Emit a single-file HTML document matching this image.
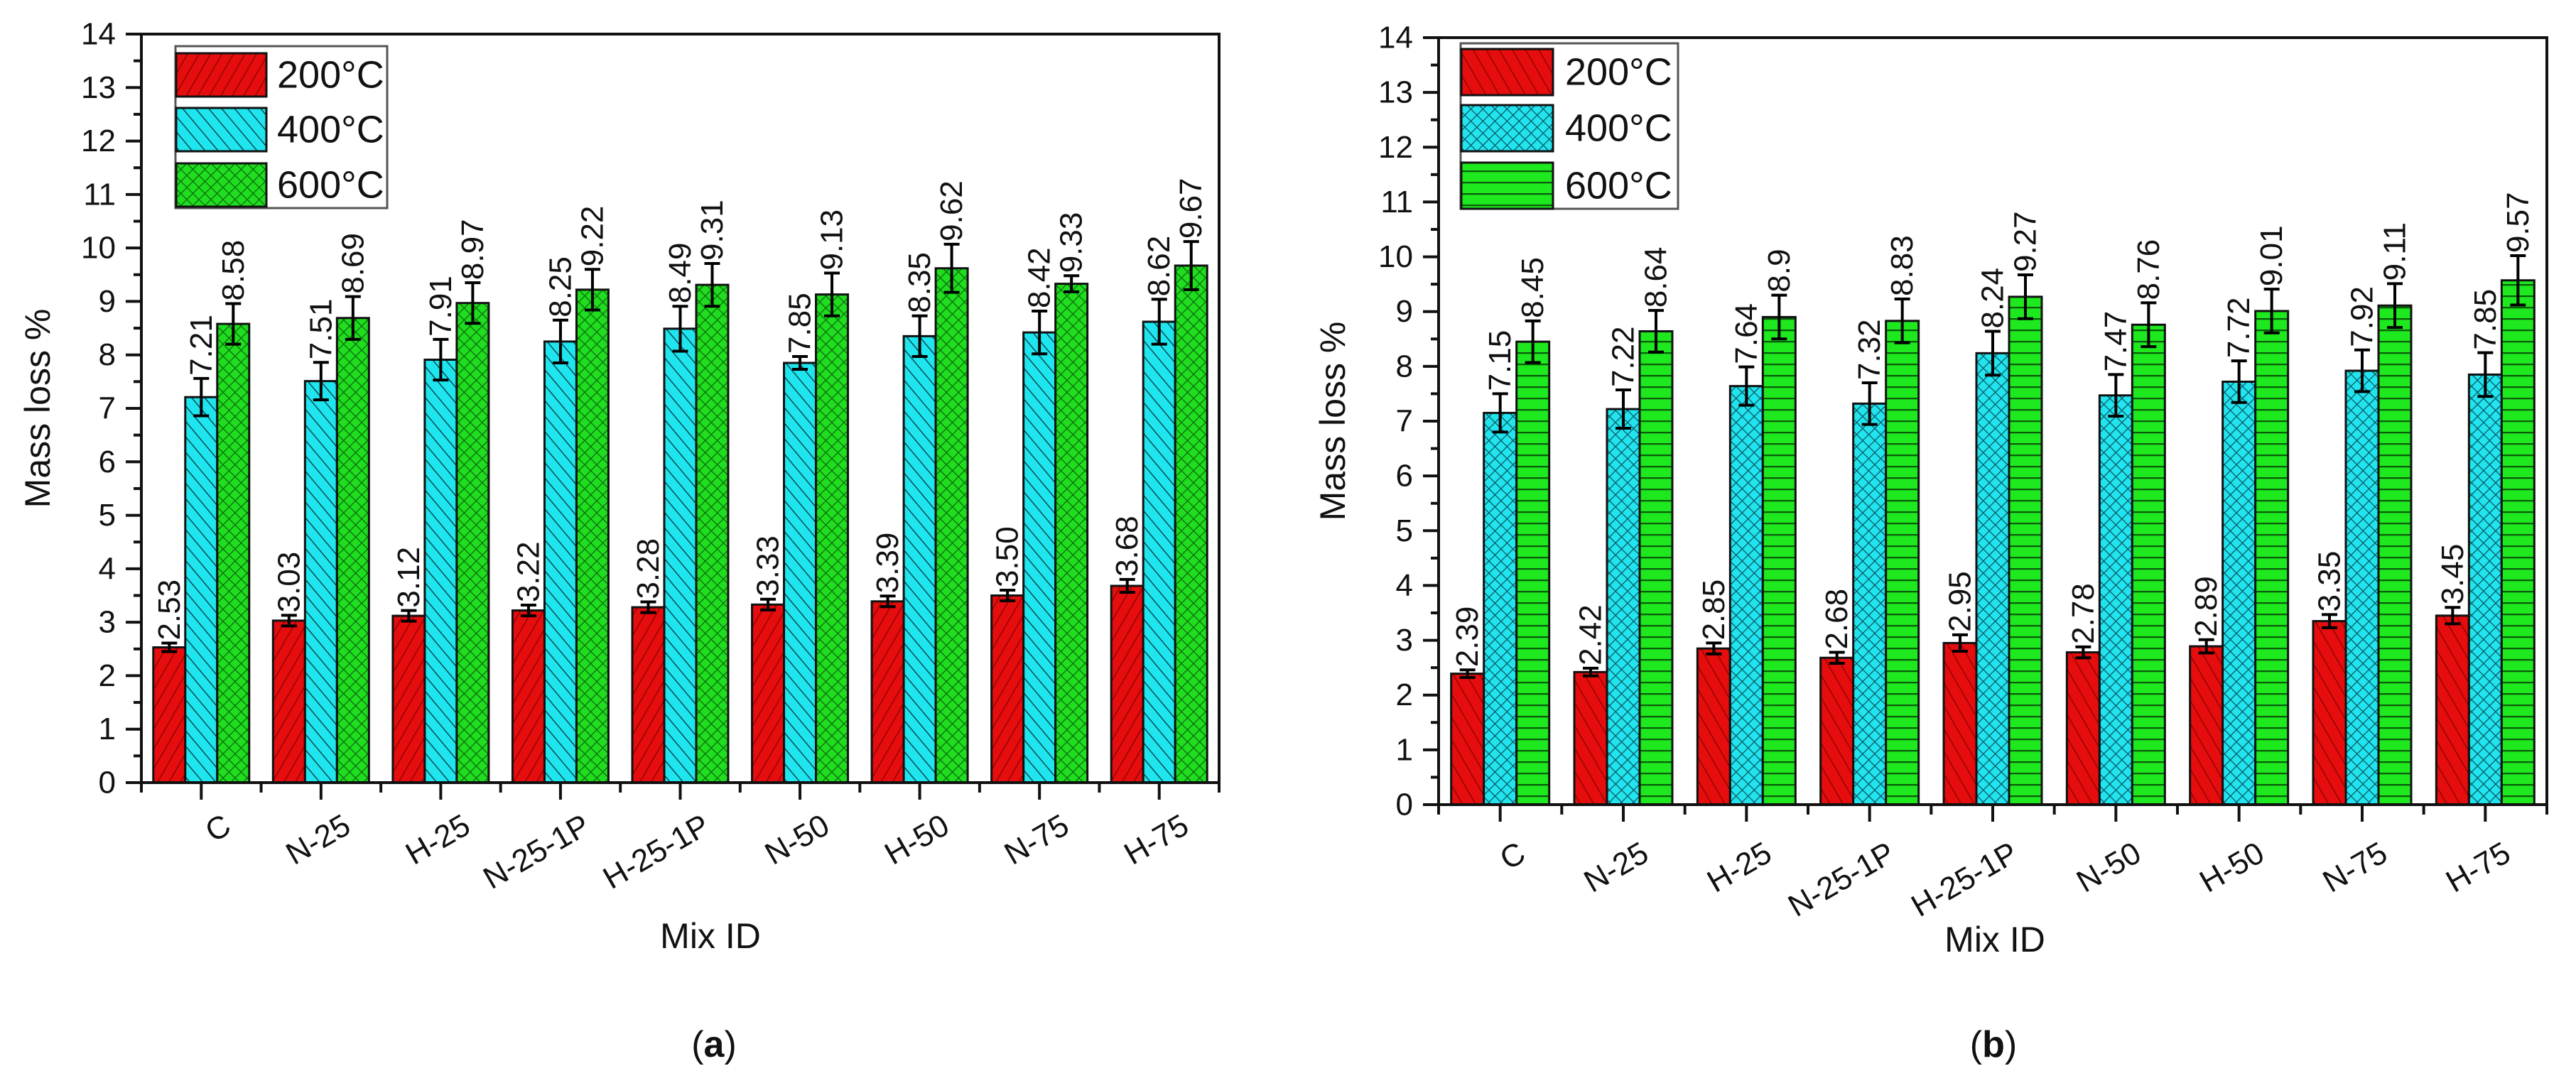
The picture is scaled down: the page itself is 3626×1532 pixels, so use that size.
<!DOCTYPE html>
<html><head><meta charset="utf-8">
<style>
html,body{margin:0;padding:0;background:#fff;}
svg{display:block;font-family:"Liberation Sans",Arial,sans-serif;}
</style></head>
<body>
<svg id="fig" width="3626" height="1532" viewBox="0 0 3626 1532" xmlns="http://www.w3.org/2000/svg">
<defs>
<pattern id="pRedA" patternUnits="userSpaceOnUse" width="14" height="14" patternTransform="rotate(30)"><rect width="14" height="14" fill="#e50d0d"/><line x1="0" y1="0" x2="0" y2="14" stroke="#8a0000" stroke-width="2.5"/></pattern>
<pattern id="pCyanA" patternUnits="userSpaceOnUse" width="14" height="14" patternTransform="rotate(-40)"><rect width="14" height="14" fill="#1fe6ee"/><line x1="0" y1="0" x2="0" y2="14" stroke="#0a4a55" stroke-width="3"/></pattern>
<pattern id="pGreenA" patternUnits="userSpaceOnUse" width="12" height="12" patternTransform="rotate(45)"><rect width="12" height="12" fill="#20dd20"/><line x1="0" y1="0" x2="0" y2="12" stroke="#0b6a0b" stroke-width="2.5"/><line x1="0" y1="0" x2="12" y2="0" stroke="#0b6a0b" stroke-width="2.5"/></pattern>
<pattern id="pRedB" patternUnits="userSpaceOnUse" width="16" height="16" patternTransform="rotate(-30)"><rect width="16" height="16" fill="#e50d0d"/><line x1="0" y1="0" x2="0" y2="16" stroke="#8a0000" stroke-width="2.5"/></pattern>
<pattern id="pCyanB" patternUnits="userSpaceOnUse" width="12" height="12" patternTransform="rotate(45)"><rect width="12" height="12" fill="#22e4ee"/><line x1="0" y1="0" x2="0" y2="12" stroke="#0a5560" stroke-width="2.5"/><line x1="0" y1="0" x2="12" y2="0" stroke="#0a5560" stroke-width="2.5"/></pattern>
<pattern id="pGreenB" patternUnits="userSpaceOnUse" width="16" height="16"><rect width="16" height="16" fill="#1ee81e"/><line x1="0" y1="1" x2="16" y2="1" stroke="#0b5a0b" stroke-width="2.5"/></pattern>
</defs>
</svg>
<script>
// ---- data ----
const categories = ["C","N-25","H-25","N-25-1P","H-25-1P","N-50","H-50","N-75","H-75"];
const seriesNames = ["200°C","400°C","600°C"];
const yTicks = [0,1,2,3,4,5,6,7,8,9,10,11,12,13,14];
// chart (a)
const a200 = [2.53,3.03,3.12,3.22,3.28,3.33,3.39,3.50,3.68];
const a400 = [7.21,7.51,7.91,8.25,8.49,7.85,8.35,8.42,8.62];
const a600 = [8.58,8.69,8.97,9.22,9.31,9.13,9.62,9.33,9.67];
const a200Err = [0.08,0.10,0.10,0.10,0.10,0.10,0.10,0.10,0.12];
const a400Err = [0.35,0.35,0.38,0.40,0.42,0.12,0.38,0.40,0.42];
const a600Err = [0.38,0.40,0.38,0.38,0.40,0.40,0.45,0.15,0.45];
const a200Lbl = ["2.53","3.03","3.12","3.22","3.28","3.33","3.39","3.50","3.68"];
const a400Lbl = ["7.21","7.51","7.91","8.25","8.49","7.85","8.35","8.42","8.62"];
const a600Lbl = ["8.58","8.69","8.97","9.22","9.31","9.13","9.62","9.33","9.67"];
// chart (b)
const b200 = [2.39,2.42,2.85,2.68,2.95,2.78,2.89,3.35,3.45];
const b400 = [7.15,7.22,7.64,7.32,8.24,7.47,7.72,7.92,7.85];
const b600 = [8.45,8.64,8.90,8.83,9.27,8.76,9.01,9.11,9.57];
const b200Err = [0.07,0.07,0.10,0.10,0.15,0.10,0.12,0.12,0.15];
const b400Err = [0.35,0.35,0.35,0.38,0.40,0.38,0.38,0.38,0.40];
const b600Err = [0.38,0.38,0.40,0.40,0.40,0.40,0.40,0.40,0.45];
const b200Lbl = ["2.39","2.42","2.85","2.68","2.95","2.78","2.89","3.35","3.45"];
const b400Lbl = ["7.15","7.22","7.64","7.32","8.24","7.47","7.72","7.92","7.85"];
const b600Lbl = ["8.45","8.64","8.9","8.83","9.27","8.76","9.01","9.11","9.57"];

const NS = "http://www.w3.org/2000/svg";
const svg = document.getElementById("fig");
function mk(tag, attrs, parent){
  const e = document.createElementNS(NS, tag);
  for (const k in attrs) e.setAttribute(k, attrs[k]);
  (parent||svg).appendChild(e);
  return e;
}

function drawChart(cfg, vals, errs, lbls, fills){
  const g = mk("g", {});
  
  
  const L = cfg.left, R = cfg.right, T = cfg.top, B = cfg.bottom;
  const yMax = 14;
  const yScale = v => B - (v / yMax) * (B - T);
  const step = (R - L) / categories.length;
  const xCenter = i => L + step * (i + 0.5);
  const bw = cfg.barW;

  for (let s = 0; s < 3; s++) {
    for (let i = 0; i < categories.length; i++) {
      const x = xCenter(i) - 1.5 * bw + s * bw;
      const y = yScale(vals[s][i]);
      const r = mk("rect", {x:x, y:y, width:bw, height:B - y, fill:"url(#"+fills[s]+")", stroke:"#111", "stroke-width":3}, g);
      
      
      const cx = x + bw / 2;
      const yt = yScale(vals[s][i] + errs[s][i]);
      const yb = yScale(vals[s][i] - errs[s][i]);
      const eg = mk("g", {stroke:"#000", "stroke-width":4}, g);
      
      
      mk("line", {x1:cx, y1:yt, x2:cx, y2:yb}, eg);
      mk("line", {x1:cx-11, y1:yt, x2:cx+11, y2:yt}, eg);
      mk("line", {x1:cx-11, y1:yb, x2:cx+11, y2:yb}, eg);
      const t = mk("text", {x:0, y:0, "font-size":cfg.valFont, "text-anchor":"start", "dominant-baseline":"central", fill:"#111",
        transform:"translate("+cx+","+(yt-4)+") rotate(-90)"}, g);
      t.textContent = lbls[s][i];
      
      
    }
  }

  const ax = mk("g", {stroke:"#111", "stroke-width":4, fill:"none"}, g);
  
  
  mk("line", {x1:L, y1:T, x2:L, y2:B}, ax);
  mk("line", {x1:L-22, y1:B, x2:R+2, y2:B}, ax);
  mk("line", {x1:L-22, y1:T, x2:R+2, y2:T}, ax);
  mk("line", {x1:R, y1:T, x2:R, y2:B+12}, ax);

  for (let k = 0; k < yTicks.length; k++) {
    const v = yTicks[k];
    const y = yScale(v);
    mk("line", {x1:L-22, y1:y, x2:L, y2:y, stroke:"#111", "stroke-width":4}, g);
    if (k < yTicks.length - 1) {
      const ym = yScale(v + 0.5);
      mk("line", {x1:L-11, y1:ym, x2:L, y2:ym, stroke:"#111", "stroke-width":4}, g);
    }
    const t = mk("text", {x:L-36, y:y, "font-size":44, "text-anchor":"end", "dominant-baseline":"central", fill:"#111"}, g);
    t.textContent = v;
    
    
  }
  for (let i = 0; i <= categories.length; i++) {
    const xm = L + step * i;
    mk("line", {x1:xm, y1:B, x2:xm, y2:B+14, stroke:"#111", "stroke-width":4}, g);
  }
  for (let i = 0; i < categories.length; i++) {
    const xc = xCenter(i);
    mk("line", {x1:xc, y1:B, x2:xc, y2:B+24, stroke:"#111", "stroke-width":4}, g);
    const t = mk("text", {x:0, y:0, "font-size":44, "text-anchor":"end", "dominant-baseline":"hanging", fill:"#111",
      transform:"translate("+(xc+cfg.lblDx)+","+(B+cfg.lblDy)+") rotate(-30)"}, g);
    t.textContent = categories[i];
    
    
  }
  const xt = mk("text", {x:cfg.xTitleX, y:cfg.xTitleY, "font-size":50, "text-anchor":"middle", fill:"#111"}, g);
  xt.textContent = "Mix ID";
  
  
  const yt = mk("text", {x:0, y:0, "font-size":50, "text-anchor":"middle", "dominant-baseline":"central", fill:"#111",
    transform:"translate("+cfg.yTitleX+","+cfg.yTitleY+") rotate(-90)"}, g);
  yt.textContent = "Mass loss %";
  
  

  const lg = mk("g", {}, g);
  
  
  const lgB = cfg.legend;
  mk("rect", {x:lgB.x, y:lgB.y, width:lgB.w, height:lgB.h, fill:"#fff", stroke:"#555", "stroke-width":3}, lg);
  for (let s = 0; s < 3; s++) {
    const ry = lgB.rows[s];
    const e = mk("g", {}, lg);
    
    
    mk("rect", {x:lgB.x+1, y:ry, width:lgB.sw, height:lgB.sh, fill:"url(#"+fills[s]+")", stroke:"#111", "stroke-width":3}, e);
    const t = mk("text", {x:lgB.tx, y:ry + lgB.sh/2, "font-size":54, "dominant-baseline":"central", fill:"#111"}, e);
    t.textContent = seriesNames[s];
  }
  const cap = mk("text", {x:cfg.capX, y:1488, "font-size":52, "text-anchor":"middle", fill:"#111"}, g);
  cap.innerHTML = '(<tspan font-weight="bold">' + cfg.cap + '</tspan>)';
  
  
}

drawChart({name:"chart-a", left:199, right:1716, top:48, bottom:1102, barW:45, valFont:44,
  lblDx:29, lblDy:42, xTitleX:1000, xTitleY:1335, yTitleX:53, yTitleY:575, capX:1005, cap:"a",
  legend:{x:247, y:65, w:298, h:228, sw:127, sh:61, rows:[75,152,230], tx:390}},
  [a200,a400,a600], [a200Err,a400Err,a600Err], [a200Lbl,a400Lbl,a600Lbl], ["pRedA","pCyanA","pGreenA"]);

drawChart({name:"chart-b", left:2025, right:3585, top:53, bottom:1133, barW:46, valFont:44,
  lblDx:23, lblDy:50, xTitleX:2808, xTitleY:1340, yTitleX:1876, yTitleY:593, capX:2806, cap:"b",
  legend:{x:2056, y:61, w:306, h:233, sw:129, sh:65, rows:[69,148,229], tx:2203}},
  [b200,b400,b600], [b200Err,b400Err,b600Err], [b200Lbl,b400Lbl,b600Lbl], ["pRedB","pCyanB","pGreenB"]);
</script>
</body></html>
